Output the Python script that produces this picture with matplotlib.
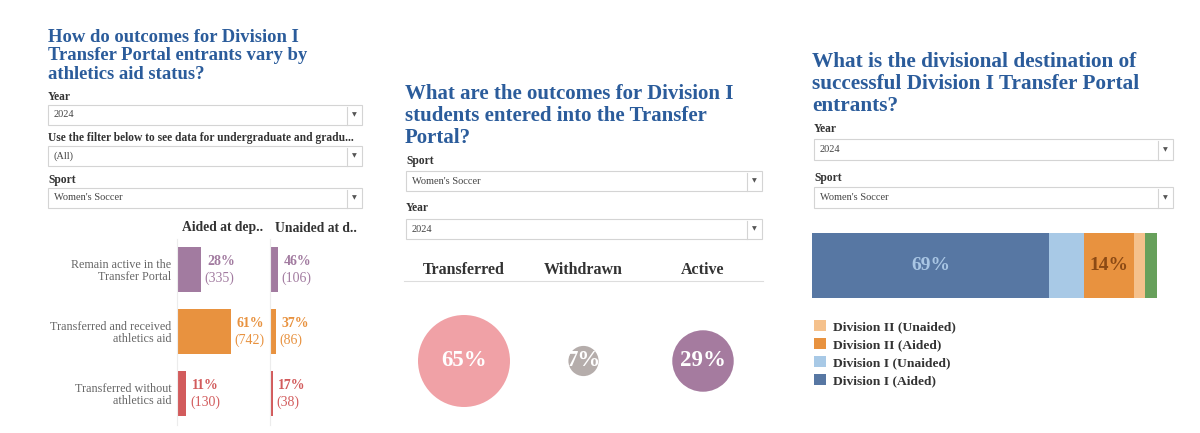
import matplotlib.pyplot as plt
from matplotlib.patches import Rectangle
from matplotlib.lines import Line2D

plt.rcParams['font.family'] = ['Liberation Serif', 'DejaVu Serif']

# --- data ---
outcomes = ["Remain active in the\nTransfer Portal",
            "Transferred and received\nathletics aid",
            "Transferred without\nathletics aid"]
aided_pct = [28, 61, 11]
aided_n = [335, 742, 130]
unaided_pct = [46, 37, 17]
unaided_n = [106, 86, 38]
outcome_colors = ["#a27ba0", "#e8923f", "#d25b5c"]

status = ["Transferred", "Withdrawn", "Active"]
status_pct = [65, 7, 29]
status_colors = ["#f0a1a6", "#b5adab", "#a57b9f"]

destinations = ["Division I (Aided)", "Division I (Unaided)", "Division II (Aided)",
                "Division II (Unaided)", "Other"]
dest_pct = [68.7, 10.1, 14.4, 3.2, 3.6]
dest_colors = ["#5777a3", "#a8c9e6", "#e8923f", "#f5c18c", "#67a05b"]
dest_label_colors = ["#a9c6e4", None, "#8c4a14", None, None]

BLUE = "#2b5c9b"
DARK = "#333333"
GREY = "#666666"

fig = plt.figure(figsize=(12, 4.33), dpi=100)


def fx(px):
    return px / 1200


def fy(py):
    return 1 - py / 433


def dropdown(x0, x1, y0, y1, label, label_y, value):
    fig.text(fx(x0), fy(label_y), label, fontsize=8.3, fontweight='bold',
             color=DARK, va='center')
    fig.patches.append(Rectangle((fx(x0), fy(y1)), fx(x1 - x0), (y1 - y0) / 433,
                                 transform=fig.transFigure, facecolor='white',
                                 edgecolor='#d4d4d4', lw=0.8))
    fig.lines.append(Line2D([fx(x1 - 15), fx(x1 - 15)], [fy(y0 + 2), fy(y1)],
                            transform=fig.transFigure, color='#d4d4d4', lw=0.8))
    fig.text(fx(x1 - 7.5), fy((y0 + y1) / 2), "▼", fontsize=4.5, color='#555555',
             ha='center', va='center', family='DejaVu Sans')
    fig.text(fx(x0 + 6), fy((y0 + y1) / 2), value, fontsize=7.5, color='#444444',
             va='center')


# --- panel 1: outcomes by aid status ---
fig.text(fx(48), fy(29), "How do outcomes for Division I\nTransfer Portal entrants vary by\n"
         "athletics aid status?", fontsize=13.4, fontweight='bold', color=BLUE,
         va='top', linespacing=1.1)
dropdown(48, 362, 105, 125, "Year", 97, "2024")
dropdown(48, 362, 146, 166,
         "Use the filter below to see data for undergraduate and gradu...", 138, "(All)")
dropdown(48, 362, 188, 208, "Sport", 180, "Women's Soccer")

px_per_n = 54 / 742
for left, width, pct, n, head, show_labels in [
        (177, 88, aided_pct, aided_n, "Aided at dep..", True),
        (270, 90, unaided_pct, unaided_n, "Unaided at d..", False)]:
    ax = fig.add_axes([fx(left), fy(424.5), fx(width), 186 / 433])
    ax.barh(range(3), n, height=0.74, color=outcome_colors)
    ax.set_xlim(0, width / px_per_n)
    ax.set_ylim(2.5, -0.5)
    for s in ['top', 'right', 'bottom']:
        ax.spines[s].set_visible(False)
    ax.spines['left'].set_color('#ececec')
    ax.set_xticks([])
    ax.set_yticks(range(3))
    if show_labels:
        ax.set_yticklabels(outcomes, fontsize=8.7, color=GREY, linespacing=1.0)
    else:
        ax.set_yticklabels([])
    ax.tick_params(axis='y', length=0, pad=4)
    for i in range(3):
        ax.annotate(f"{pct[i]}%", xy=(n[i], i), xytext=(4, 5.8), textcoords='offset points',
                    ha='left', va='center', fontsize=10, fontweight='bold',
                    color=outcome_colors[i])
        ax.annotate(f"({n[i]})", xy=(n[i], i), xytext=(2.5, -6), textcoords='offset points',
                    ha='left', va='center', fontsize=10, color=outcome_colors[i])
    fig.text(fx(left + 5), fy(228), head, fontsize=9.8, fontweight='bold', color=DARK,
             va='center')

# --- panel 2: outcome circles ---
fig.text(fx(405), fy(84), "What are the outcomes for Division I\nstudents entered into the Transfer\n"
         "Portal?", fontsize=15, fontweight='bold', color=BLUE, va='top', linespacing=1.13)
dropdown(406, 762, 171, 191, "Sport", 161, "Women's Soccer")
dropdown(406, 762, 219, 239, "Year", 208, "2024")

axc = fig.add_axes([fx(404.25), fy(433), fx(358.5), 152 / 433])
axc.scatter(range(3), [0, 0, 0], s=[p * 67.5 for p in status_pct], c=status_colors,
            linewidths=0)
for i, p in enumerate(status_pct):
    axc.text(i, 0, f"{p}%", ha='center', va='center', fontsize=16.5, fontweight='bold',
             color='white')
axc.set_xlim(-0.5, 2.5)
axc.set_ylim(-72, 80)
axc.set_yticks([])
axc.set_xticks(range(3))
axc.set_xticklabels(status, fontsize=11.5, fontweight='bold', color=DARK)
axc.xaxis.tick_top()
axc.tick_params(axis='x', length=0, pad=2)
for s in ['left', 'right', 'bottom']:
    axc.spines[s].set_visible(False)
axc.spines['top'].set_color('#dddddd')

# --- panel 3: divisional destination ---
fig.text(fx(812), fy(52), "What is the divisional destination of\nsuccessful Division I Transfer Portal\n"
         "entrants?", fontsize=15.3, fontweight='bold', color=BLUE, va='top', linespacing=1.13)
dropdown(814, 1173, 139, 160, "Year", 129, "2024")
dropdown(814, 1173, 187, 208, "Sport", 178, "Women's Soccer")

axs = fig.add_axes([fx(812), fy(298), fx(345), 65 / 433])
bars = []
left = 0
for name, v, col, lcol in zip(destinations, dest_pct, dest_colors, dest_label_colors):
    b = axs.barh(0, v, left=left, height=1, color=col, label=name)
    bars.append(b)
    if lcol:
        axs.text(left + v / 2, 0, f"{v:.0f}%", ha='center', va='center', fontsize=14,
                 fontweight='bold', color=lcol)
    left += v
axs.set_xlim(0, 100)
axs.set_ylim(-0.5, 0.5)
axs.axis('off')

order = [3, 2, 1, 0]
fig.legend([bars[i] for i in order], [destinations[i] for i in order],
           loc='upper left', bbox_to_anchor=(fx(814), fy(320)), frameon=False,
           prop={'size': 9.7, 'weight': 'bold'}, labelcolor=DARK,
           handlelength=0.9, handleheight=0.85, handletextpad=0.5,
           labelspacing=0.38, borderpad=0, borderaxespad=0)

fig.savefig("out.png", dpi=100, facecolor='white')
